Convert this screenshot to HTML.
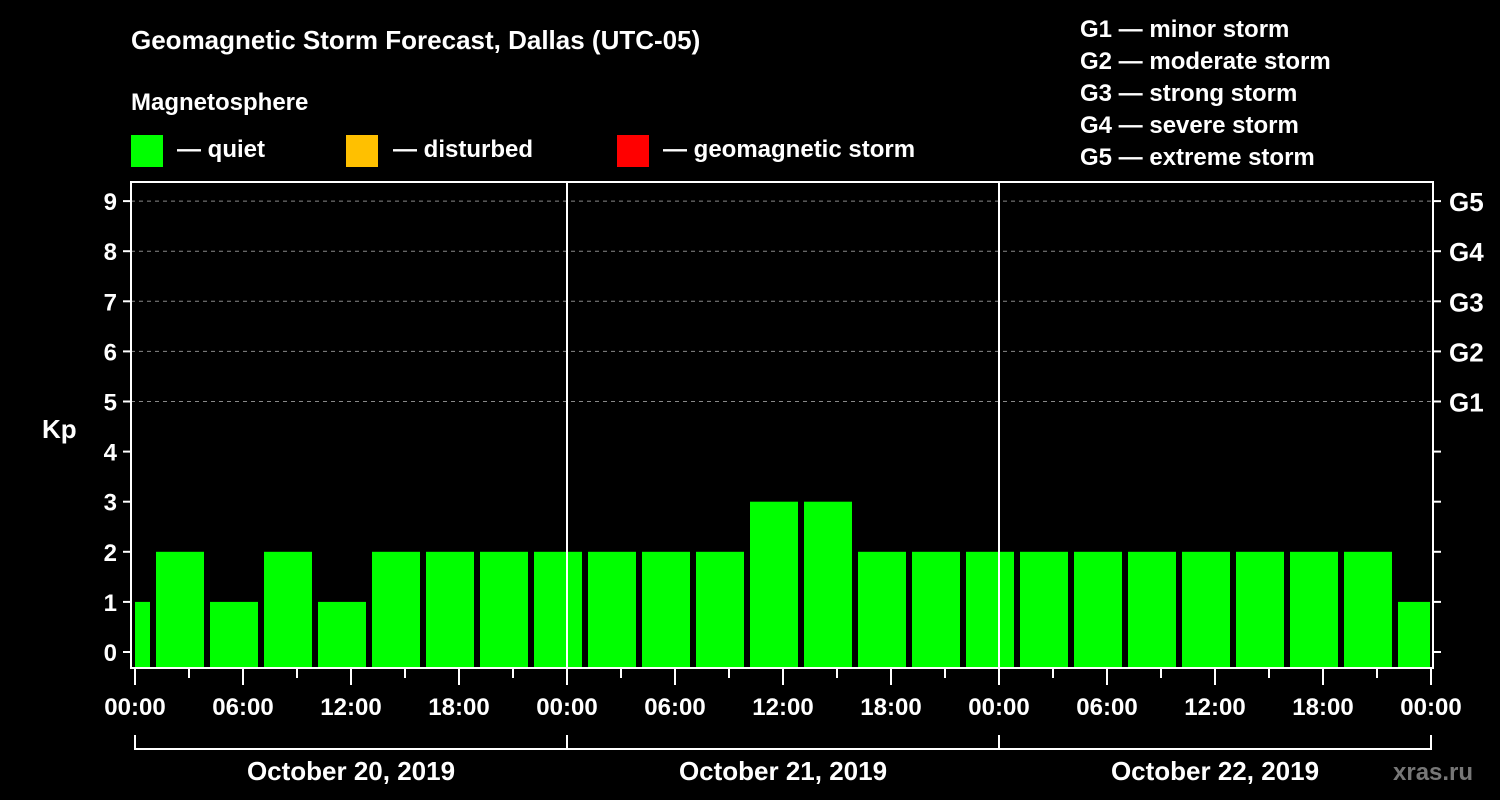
<!DOCTYPE html>
<html><head><meta charset="utf-8"><style>
body{margin:0;background:#000;width:1500px;height:800px;overflow:hidden}
svg{display:block}
text{font-family:"Liberation Sans",sans-serif;font-weight:bold;fill:#fff}
</style></head><body>
<svg id="chart" width="1500" height="800" viewBox="0 0 1500 800">
<rect width="1500" height="800" fill="#000"/>
<text x="131" y="49" font-size="26">Geomagnetic Storm Forecast, Dallas (UTC-05)</text>
<text x="131" y="110" font-size="24">Magnetosphere</text>
<g><rect x="131" y="135" width="32" height="32" fill="#00ff00"/><text x="177" y="157" font-size="24">— quiet</text></g>
<g><rect x="346" y="135" width="32" height="32" fill="#ffc000"/><text x="393" y="157" font-size="24">— disturbed</text></g>
<g><rect x="617" y="135" width="32" height="32" fill="#ff0000"/><text x="663" y="157" font-size="24">— geomagnetic storm</text></g>
<g font-size="24">
<text x="1080" y="37">G1 — minor storm</text>
<text x="1080" y="69">G2 — moderate storm</text>
<text x="1080" y="101">G3 — strong storm</text>
<text x="1080" y="133">G4 — severe storm</text>
<text x="1080" y="165">G5 — extreme storm</text>
</g>
<text x="42" y="438" font-size="26">Kp</text>
<text x="1393" y="780" font-size="24" fill="#777" style="fill:#777">xras.ru</text>
<g id="grid"></g><g id="bars"></g><g id="axes"></g>
</svg>
<script>
const kpValues=[1,2,1,2,1,2,2,2,2,2,2,2,3,3,2,2,2,2,2,2,2,2,2,2,1];
const yTicks=[0,1,2,3,4,5,6,7,8,9];
const gLabels=["G1","G2","G3","G4","G5"];
const timeLabels=["00:00","06:00","12:00","18:00","00:00","06:00","12:00","18:00","00:00","06:00","12:00","18:00","00:00"];
const dayLabels=["October 20, 2019","October 21, 2019","October 22, 2019"];
const X0=135,PXH=18,L=131,R=1433,T=182,B=668;
const x=h=>X0+h*PXH;
const y=v=>652-v*50.1;
const NS="http://www.w3.org/2000/svg";
function mk(tag,parent,attrs){const e=document.createElementNS(NS,tag);for(const k in attrs)e.setAttribute(k,attrs[k]);parent.appendChild(e);return e;}
const grid=document.getElementById('grid'),bars=document.getElementById('bars'),axes=document.getElementById('axes');
for(let v=5;v<=9;v++){const l=mk('line',grid,{x1:L,x2:R,y1:y(v),y2:y(v),stroke:'#888','stroke-dasharray':'4,4','stroke-width':1});

}
kpValues.forEach((v,i)=>{const h0=-2+i*3;let a=x(h0)+3,b=x(h0+3)-3;a=Math.max(a,L+4);b=Math.min(b,R-3);
const r=mk('rect',bars,{x:a,y:y(v),width:b-a,height:B-y(v),fill:'#00ff00'});

});
for(let d=1;d<3;d++){const l=mk('line',axes,{x1:x(d*24),x2:x(d*24),y1:T,y2:B,stroke:'#fff','stroke-width':2});

}
const fr=mk('rect',axes,{x:L,y:T,width:R-L,height:B-T,fill:'none',stroke:'#fff','stroke-width':2});


yTicks.forEach(v=>{mk('line',axes,{x1:L-8,x2:L,y1:y(v),y2:y(v),stroke:'#fff','stroke-width':2});
mk('line',axes,{x1:R,x2:R+8,y1:y(v),y2:y(v),stroke:'#fff','stroke-width':2});
const t=mk('text',axes,{x:L-14,y:y(v)+9,'font-size':24,'text-anchor':'end'});t.textContent=v;

});
gLabels.forEach((g,i)=>{const t=mk('text',axes,{x:1449,y:y(5+i)+10,'font-size':26});t.textContent=g;

});
for(let h=0;h<=72;h+=3){const major=h%6===0;mk('line',axes,{x1:x(h),x2:x(h),y1:B,y2:B+(major?17:10),stroke:'#fff','stroke-width':2});}
timeLabels.forEach((s,i)=>{const t=mk('text',axes,{x:x(i*6),y:715,'font-size':24,'text-anchor':'middle'});t.textContent=s;

});
dayLabels.forEach((s,d)=>{mk('path',axes,{d:`M${x(d*24)},735 V749 H${x(d*24+24)} V735`,fill:'none',stroke:'#fff','stroke-width':2});
const t=mk('text',axes,{x:x(d*24+12),y:780,'font-size':26,'text-anchor':'middle'});t.textContent=s;

});
</script>
</body></html>
